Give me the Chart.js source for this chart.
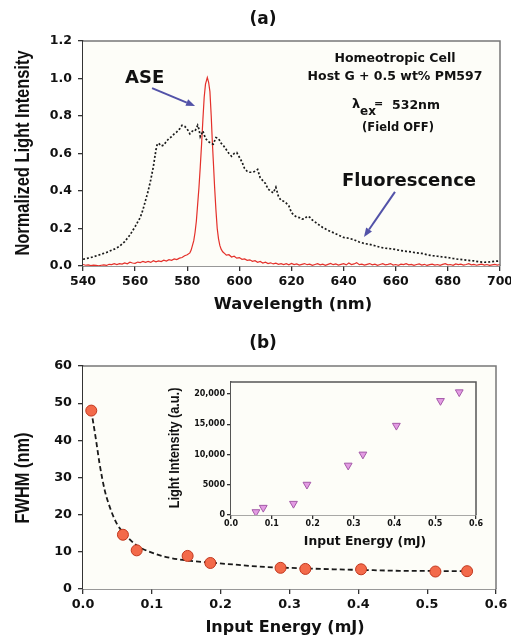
<!DOCTYPE html>
<html><head><meta charset="utf-8">
<script src="https://cdn.jsdelivr.net/npm/chart.js@4.4.1/dist/chart.umd.min.js"></script>
<style>
html,body{margin:0;padding:0;background:#fff;}
#wrap{position:relative;width:511px;height:639px;overflow:hidden;}
canvas{position:absolute;}
</style></head>
<body><div id="wrap">
<canvas id="ca" width="511" height="320" style="left:0;top:0"></canvas>
<canvas id="cb" width="511" height="319" style="left:0;top:320px"></canvas>
<canvas id="ci" width="340" height="185" style="left:160px;top:370px"></canvas>
</div>
<script>
// ---------- Panel (a) data ----------
const fluoWl = [540,543,546,549,552,554,556,558,560,561,562,563,564,565,566,567,568,568.5,569,570,571,572,573,574,575,576,577,578,579,580,581,582,583,584,584.5,585,586,587,588,589,590,591,592,593,594,595,596,597,598,599,600,601,602,603,604,605,606,607,608,609,610,611,612,613,614,615,616,617,618,619,620,621,622,623,624,625,626,627,628,630,632,634,636,638,640,642,644,646,648,650,652,654,656,658,660,662,664,666,668,670,672,674,676,678,680,682,684,686,688,690,692,694,696,698,700];
const fluoInt = [0.036,0.045,0.058,0.072,0.09,0.105,0.13,0.165,0.21,0.235,0.26,0.30,0.35,0.40,0.46,0.53,0.62,0.65,0.655,0.64,0.645,0.665,0.68,0.69,0.705,0.715,0.73,0.75,0.745,0.73,0.705,0.72,0.72,0.75,0.73,0.69,0.72,0.68,0.665,0.655,0.65,0.685,0.68,0.655,0.64,0.62,0.60,0.585,0.60,0.605,0.58,0.555,0.52,0.505,0.50,0.50,0.505,0.515,0.47,0.455,0.44,0.41,0.40,0.39,0.42,0.37,0.35,0.345,0.335,0.32,0.285,0.27,0.262,0.258,0.25,0.252,0.265,0.26,0.245,0.225,0.205,0.19,0.178,0.165,0.152,0.148,0.14,0.128,0.12,0.115,0.108,0.10,0.095,0.092,0.088,0.082,0.078,0.075,0.07,0.067,0.06,0.055,0.052,0.048,0.045,0.04,0.036,0.033,0.03,0.027,0.022,0.02,0.022,0.025,0.027];

const aseWl = [540,541,542,543,544,545,546,547,548,549,550,551,552,553,554,555,556,557,558,559,560,561,562,563,564,565,566,567,568,569,570,571,572,573,574,575,576,577,578,579,580,581,581.5,582,582.5,583,583.5,584,584.5,585,585.5,586,586.5,587,587.7,588.2,588.7,589.2,589.6,590,590.5,591,591.5,592,592.5,593,593.6,594.5,595,596,597,598,599,600,601,602,603,604,605,606,607,608,609,610,611,612,613,614,615,616,617,618,619,620,621,622,623,624,625,626,627,628,629,630,631,632,633,634,635,636,637,638,639,640,641,642,643,644,645,646,647,648,649,650,651,652,653,654,655,656,657,658,659,660,661,662,663,664,665,666,667,668,669,670,671,672,673,674,675,676,677,678,679,680,681,682,683,684,685,686,687,688,689,690,691,692,693,694,695,696,697,698,699,700];
const aseInt = [0.008,0.004,0.006,0.002,0.005,0.003,0.001,0.004,0.006,0.003,0.009,0.007,0.012,0.008,0.013,0.010,0.016,0.012,0.020,0.016,0.014,0.021,0.018,0.025,0.020,0.024,0.019,0.028,0.022,0.027,0.024,0.031,0.026,0.034,0.030,0.038,0.034,0.042,0.045,0.055,0.060,0.07,0.085,0.11,0.135,0.18,0.24,0.33,0.42,0.53,0.65,0.78,0.90,0.97,1.005,0.98,0.93,0.80,0.67,0.56,0.42,0.30,0.20,0.145,0.11,0.09,0.076,0.065,0.058,0.060,0.048,0.052,0.042,0.045,0.036,0.038,0.030,0.033,0.025,0.028,0.020,0.024,0.016,0.020,0.013,0.017,0.011,0.015,0.009,0.013,0.008,0.012,0.006,0.014,0.008,0.011,0.005,0.009,0.013,0.007,0.010,0.004,0.008,0.012,0.006,0.010,0.004,0.009,0.014,0.007,0.011,0.005,0.009,0.012,0.006,0.016,0.008,0.011,0.018,0.007,0.010,0.005,0.009,0.013,0.006,0.010,0.004,0.008,0.012,0.006,0.009,0.013,0.005,0.008,0.004,0.010,0.007,0.012,0.006,0.009,0.004,0.008,0.011,0.005,0.009,0.003,0.007,0.010,0.005,0.008,0.004,0.009,0.012,0.006,0.008,0.004,0.011,0.007,0.010,0.005,0.008,0.012,0.006,0.009,0.004,0.007,0.010,0.005,0.008,0.003,0.006,0.009,0.005,0.008,0.004];

const xTicksA = [540,560,580,600,620,640,660,680,700];
const yTicksA = [0,0.2,0.4,0.6,0.8,1.0,1.2];

// ---------- Panel (b) data ----------
const energyDots = [0.012,0.058,0.078,0.152,0.185,0.287,0.323,0.404,0.512,0.558];
const fwhmDots   = [48,14.6,10.4,8.9,7.0,5.7,5.4,5.3,4.7,4.8];
const fitEnergy  = [0.012,0.019,0.024,0.0315,0.039,0.0485,0.06,0.078,0.097,0.121,0.15,0.186,0.218,0.267,0.315,0.364,0.412,0.46,0.509,0.557];
const fitFwhm    = [48,40,33.8,26.6,22,17.8,14.9,11.7,10,8.6,7.7,7.1,6.6,5.9,5.6,5.3,5.1,4.9,4.85,4.8];
const xTicksB = [0,0.1,0.2,0.3,0.4,0.5,0.6];
const yTicksB = [0,10,20,30,40,50,60];

// ---------- Inset data ----------
const insetEnergy = [0.061,0.079,0.153,0.186,0.287,0.323,0.405,0.513,0.559];
const insetIntensity = [500,1220,1880,5040,8200,10030,14790,18890,20330];
const yTicksI = [0,5000,10000,15000,20000];

// ---------- helpers ----------
const FAM = '"DejaVu Sans", Verdana, sans-serif';
const PLOT_BG = '#fdfdf8';
const pts = (xs, ys) => xs.map((x, i) => ({x, y: ys[i]}));

function bgBorderPlugin(borderAll) {
  return {
    id: 'bgb',
    beforeDatasetsDraw(chart) {
      const {ctx, chartArea: a} = chart;
      ctx.save();
      ctx.fillStyle = PLOT_BG;
      ctx.fillRect(a.left, a.top, a.right - a.left, a.bottom - a.top);
      ctx.restore();
    },
    afterDraw(chart) {
      const {ctx, chartArea: a} = chart;
      ctx.save();
      ctx.strokeStyle = borderAll || '#777';
      ctx.lineWidth = 1.5;
      ctx.beginPath();
      ctx.moveTo(a.left, a.top); ctx.lineTo(a.right, a.top); ctx.lineTo(a.right, a.bottom);
      ctx.stroke();
      ctx.restore();
    }
  };
}

function txt(ctx, s, x, y, font, align) {
  ctx.font = font; ctx.textAlign = align || 'center'; ctx.textBaseline = 'middle';
  ctx.fillStyle = '#111'; ctx.fillText(s, x, y);
}
function narrowV(ctx, s, x, y, size) {
  ctx.save();
  ctx.translate(x, y); ctx.rotate(-Math.PI / 2); ctx.scale(0.82, 1);
  ctx.font = 'bold ' + size + 'px "Liberation Sans", Arial, sans-serif';
  ctx.textAlign = 'center'; ctx.textBaseline = 'middle'; ctx.fillStyle = '#111';
  ctx.fillText(s, 0, 0);
  ctx.restore();
}
function arrow(ctx, x1, y1, x2, y2) {
  ctx.save();
  ctx.strokeStyle = '#5252a8'; ctx.fillStyle = '#5252a8'; ctx.lineWidth = 2;
  const ang = Math.atan2(y2 - y1, x2 - x1);
  const hx = x2 - 9 * Math.cos(ang), hy = y2 - 9 * Math.sin(ang);
  ctx.beginPath(); ctx.moveTo(x1, y1); ctx.lineTo(hx, hy); ctx.stroke();
  ctx.beginPath();
  ctx.moveTo(x2, y2);
  ctx.lineTo(hx + 3.5 * Math.sin(ang), hy - 3.5 * Math.cos(ang));
  ctx.lineTo(hx - 3.5 * Math.sin(ang), hy + 3.5 * Math.cos(ang));
  ctx.closePath(); ctx.fill();
  ctx.restore();
}

function axisCfg(min, max, ticksArr, fmt, fixSize, isX, opts) {
  opts = opts || {};
  return {
    type: 'linear', min, max,
    afterBuildTicks(s) { s.ticks = ticksArr.map(v => ({value: v})); },
    ticks: {
      callback: fmt, color: '#111', padding: opts.pad,
      font: {family: FAM, size: opts.size, weight: 'bold'},
      maxRotation: 0, autoSkip: false
    },
    grid: {drawOnChartArea: false, drawTicks: true, tickLength: opts.tl || 5, color: '#333', lineWidth: 1.3},
    border: {color: opts.bc || '#333', width: 1.5},
    afterFit(s) {
      if (isX) s.height = fixSize; else s.width = fixSize;
      s.paddingLeft = 0; s.paddingRight = 0; s.paddingTop = 0; s.paddingBottom = 0;
    }
  };
}

const common = {
  animation: false, responsive: false, devicePixelRatio: 1,
  plugins: {legend: {display: false}, tooltip: {enabled: false}}
};

// ---------- Chart (a) ----------
new Chart(document.getElementById('ca'), {
  type: 'line',
  data: {datasets: [
    {data: pts(fluoWl, fluoInt), borderColor: '#1a1a1a', borderWidth: 1.7, borderDash: [2, 2], pointRadius: 0, tension: 0, fill: false},
    {data: pts(aseWl, aseInt), borderColor: '#e4302a', borderWidth: 1.2, pointRadius: 0, tension: 0, fill: false}
  ]},
  options: Object.assign({}, common, {
    layout: {padding: {top: 41, right: 11, left: 0, bottom: 0}},
    scales: {
      x: axisCfg(540, 700, xTicksA, v => String(v), 54, true, {pad: 3, size: 12.5}),
      y: axisCfg(0, 1.2, yTicksA, v => v.toFixed(1), 83, false, {pad: 6, size: 12.5})
    }
  }),
  plugins: [bgBorderPlugin(), {
    id: 'annA',
    afterDraw(chart) {
      const ctx = chart.ctx, xs = chart.scales.x, ys = chart.scales.y;
      txt(ctx, '(a)', 263, 20, 'bold 17px ' + FAM);
      narrowV(ctx, 'Normalized Light Intensity', 23, 153, 20);
      txt(ctx, 'Wavelength (nm)', 293, 305, 'bold 16.3px ' + FAM);
      txt(ctx, 'ASE', 125, 78, 'bold 18px ' + FAM, 'left');
      txt(ctx, 'Fluorescence', 409, 181, 'bold 18px ' + FAM);
      txt(ctx, 'Homeotropic Cell', 395, 59, 'bold 12.5px ' + FAM);
      txt(ctx, 'Host G + 0.5 wt% PM597', 395, 77, 'bold 12.5px ' + FAM);
      txt(ctx, 'λ', 352, 105, 'bold 13px ' + FAM, 'left');
      txt(ctx, 'ex', 360, 112, 'bold 12px ' + FAM, 'left');
      txt(ctx, '=', 374, 104, 'bold 11px ' + FAM, 'left');
      txt(ctx, '532nm', 392, 106, 'bold 12.5px ' + FAM, 'left');
      txt(ctx, '(Field OFF)', 398, 128, 'bold 11.5px ' + FAM);
      arrow(ctx, xs.getPixelForValue(566.5), ys.getPixelForValue(0.949), xs.getPixelForValue(583.0), ys.getPixelForValue(0.853));
      arrow(ctx, xs.getPixelForValue(659.7), ys.getPixelForValue(0.395), xs.getPixelForValue(647.8), ys.getPixelForValue(0.155));
    }
  }]
});

// ---------- Chart (b) ----------
new Chart(document.getElementById('cb'), {
  type: 'line',
  data: {datasets: [
    {data: pts(energyDots, fwhmDots), showLine: false, pointRadius: 5.5, pointBackgroundColor: '#f36a4a', pointBorderColor: '#c2381f', pointBorderWidth: 1},
    {data: pts(fitEnergy, fitFwhm), borderColor: '#1a1a1a', borderWidth: 1.8, borderDash: [5, 3], pointRadius: 0, tension: 0.4, cubicInterpolationMode: 'monotone', fill: false}
  ]},
  options: Object.assign({}, common, {
    layout: {padding: {top: 46, right: 15, left: 0, bottom: 0}},
    scales: {
      x: axisCfg(0, 0.6, xTicksB, v => v.toFixed(1), 50, true, {pad: 2.5, size: 12.8}),
      y: axisCfg(0, 60, yTicksB, v => String(v), 83, false, {pad: 6, size: 12.8})
    }
  }),
  plugins: [bgBorderPlugin(), {
    id: 'annB',
    afterDraw(chart) {
      const ctx = chart.ctx;
      txt(ctx, '(b)', 263, 24, 'bold 17px ' + FAM);
      narrowV(ctx, 'FWHM (nm)', 23, 158, 20);
      txt(ctx, 'Input Energy (mJ)', 285, 308, 'bold 16px ' + FAM);
    }
  }]
});

// ---------- Inset ----------
new Chart(document.getElementById('ci'), {
  type: 'scatter',
  data: {datasets: [
    {data: pts(insetEnergy, insetIntensity), pointStyle: 'triangle', rotation: 180, pointRadius: 4.5, pointBackgroundColor: '#e39be3', pointBorderColor: '#a45aa8', pointBorderWidth: 1}
  ]},
  options: Object.assign({}, common, {
    layout: {padding: {top: 12, right: 24, left: 0, bottom: 0}},
    scales: {
      x: axisCfg(0, 0.6, xTicksB, v => v.toFixed(1), 40, true, {pad: 0, size: 8, tl: 4, bc: '#555'}),
      y: axisCfg(0, 22000, yTicksI, v => (v >= 10000 ? v.toLocaleString('en-US') : String(v)), 71, false, {pad: 2, size: 8, tl: 4, bc: '#555'})
    }
  }),
  plugins: [bgBorderPlugin('#555'), {
    id: 'annI',
    afterDraw(chart) {
      const ctx = chart.ctx;
      narrowV(ctx, 'Light Intensity (a.u.)', 15, 78, 15.5);
      txt(ctx, 'Input Energy (mJ)', 205, 172, 'bold 12.3px ' + FAM);
    }
  }]
});
</script>
</body></html>
